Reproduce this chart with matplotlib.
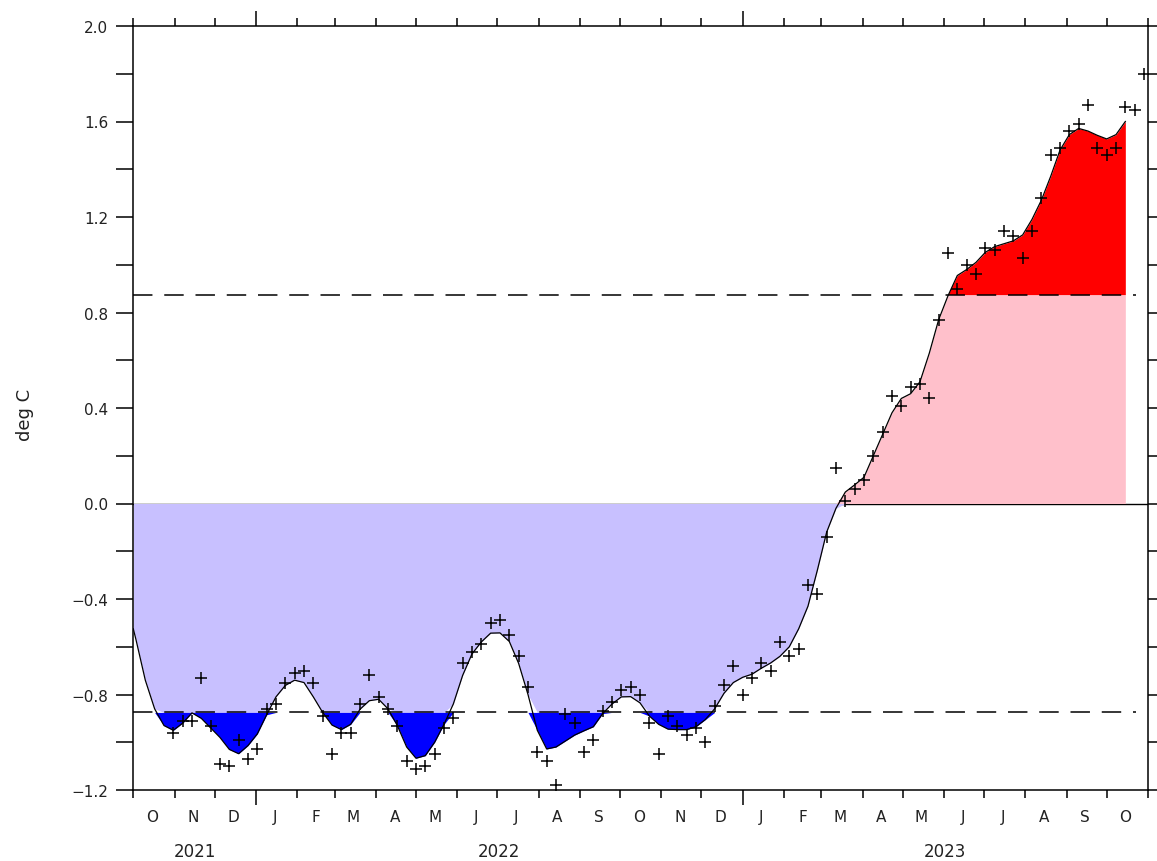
import numpy as np
import pandas as pd
import matplotlib
matplotlib.use("Agg")
import matplotlib.pyplot as plt
import matplotlib.dates as mdates
from matplotlib.transforms import blended_transform_factory

# ---------------- data ----------------
obs_start = "2021-10-31"
obs_values = [
    -0.96, -0.91, -0.91, -0.73, -0.93, -1.09, -1.10, -0.99, -1.07, -1.03,
    -0.86, -0.84, -0.75, -0.71, -0.70, -0.75, -0.89, -1.05, -0.96, -0.96,
    -0.84, -0.72, -0.81, -0.86, -0.93, -1.08, -1.11, -1.10, -1.05, -0.94,
    -0.90, -0.67, -0.62, -0.59, -0.50, -0.49, -0.55, -0.64, -0.77, -1.04,
    -1.08, -1.18, -0.88, -0.92, -1.04, -0.99, -0.87, -0.83, -0.78, -0.77,
    -0.80, -0.92, -1.05, -0.89, -0.93, -0.97, -0.94, -1.00, -0.85, -0.76,
    -0.68, -0.80, -0.73, -0.67, -0.70, -0.58, -0.64, -0.61, -0.34, -0.38,
    -0.14, 0.15, 0.01, 0.06, 0.10, 0.20, 0.30, 0.45, 0.41, 0.49,
    0.50, 0.44, 0.77, 1.05, 0.90, 1.00, 0.96, 1.07, 1.06, 1.14,
    1.12, 1.03, 1.14, 1.28, 1.46, 1.49, 1.56, 1.59, 1.67, 1.49,
    1.46, 1.49, 1.66, 1.65, 1.80,
]

smooth_first = "2021-10-01"
smooth_start = "2021-10-03"
smooth_values = [
    -0.525,
    -0.57, -0.74, -0.86, -0.93, -0.95, -0.92, -0.877, -0.90, -0.94, -0.98,
    -1.03, -1.048, -1.014, -0.965, -0.885, -0.81, -0.762, -0.74, -0.75, -0.81,
    -0.875, -0.928, -0.947, -0.925, -0.862, -0.826, -0.82, -0.86, -0.93, -1.02,
    -1.067, -1.056, -1.0, -0.925, -0.84, -0.72, -0.63, -0.58, -0.543, -0.542,
    -0.578, -0.67, -0.80, -0.95, -1.028, -1.02, -0.995, -0.97, -0.952, -0.935,
    -0.88, -0.84, -0.81, -0.809, -0.835, -0.89, -0.925, -0.945, -0.947, -0.947,
    -0.935, -0.905, -0.86, -0.795, -0.75, -0.728, -0.715, -0.69, -0.668, -0.64,
    -0.60, -0.525, -0.43, -0.28, -0.12, -0.02, 0.048, 0.078, 0.11, 0.20,
    0.29, 0.38, 0.44, 0.46, 0.51, 0.63, 0.77, 0.87, 0.955, 0.98,
    1.01, 1.052, 1.076, 1.088, 1.10, 1.125, 1.19, 1.27, 1.37, 1.48,
    1.545, 1.571, 1.56, 1.542, 1.527, 1.545, 1.60,
]

threshold = 0.875
month_labels = ["O", "N", "D", "J", "F", "M", "A", "M", "J", "J", "A", "S",
                "O", "N", "D", "J", "F", "M", "A", "M", "J", "J", "A", "S", "O"]
year_labels = ["2021", "2022", "2023"]
ytick_values = [-1.2, -1.0, -0.8, -0.6, -0.4, -0.2, 0.0, 0.2, 0.4, 0.6,
                0.8, 1.0, 1.2, 1.4, 1.6, 1.8, 2.0]
ytick_labels = ["\u22121.2", "", "\u22120.8", "", "\u22120.4", "", "0.0", "",
                "0.4", "", "0.8", "", "1.2", "", "1.6", "", "2.0"]
ylabel = "deg C"

# ---------------- colours ----------------
c_lav = "#c8c0ff"
c_blue = "#0000ff"
c_pink = "#ffc0cb"
c_red = "#ff0000"
c_text = "#222222"

plt.rcParams["font.family"] = ["DejaVu Sans"]
plt.rcParams["lines.scale_dashes"] = False

obs_dates = pd.date_range(obs_start, periods=len(obs_values), freq="7D")
sm_dates = pd.DatetimeIndex([pd.Timestamp(smooth_first)]).append(
    pd.date_range(smooth_start, periods=len(smooth_values) - 1, freq="7D"))

xo = mdates.date2num(obs_dates.to_pydatetime())
xs = mdates.date2num(sm_dates.to_pydatetime())
ys = np.array(smooth_values)
yo = np.array(obs_values)

x0 = mdates.date2num(pd.Timestamp("2021-10-01").to_pydatetime())
x1 = mdates.date2num(pd.Timestamp("2023-11-01").to_pydatetime())

fig = plt.figure(figsize=(11.57, 8.62), dpi=100)
ax = fig.add_axes([133.3 / 1157, 1 - 791 / 862, (1148 - 133.3) / 1157, (791 - 27) / 862])

ax.axhline(0, color="black", lw=1.0, zorder=1)

ax.fill_between(xs, 0, np.clip(ys, -threshold, 0), color=c_lav, lw=0, zorder=2)
ax.fill_between(xs, -threshold, np.minimum(ys, -threshold), color=c_blue, lw=0, zorder=2)
ax.fill_between(xs, 0, np.clip(ys, 0, threshold), color=c_pink, lw=0, zorder=2)
ax.fill_between(xs, threshold, np.maximum(ys, threshold), color=c_red, lw=0, zorder=2)

xd_end = mdates.date2num(pd.Timestamp("2023-10-23").to_pydatetime())
for t in (threshold, -threshold):
    ax.plot([x0, xd_end], [t, t], color="black", lw=1.1, dashes=(14, 8.5), zorder=3)

ax.plot(xs, ys, color="black", lw=0.9, zorder=4)
ax.plot(xo, yo, linestyle="none", marker="+", markersize=8, mew=1.1, color="black", zorder=5)

ax.set_xlim(x0, x1)
ax.set_ylim(-1.2, 2.0)

# y ticks
ax.set_yticks(ytick_values)
ax.set_yticklabels(ytick_labels)
ax.tick_params(axis="y", which="major", direction="out", length=12, width=1.1,
               labelsize=11, pad=6, colors="black", labelcolor=c_text,
               left=True, right=True)

# x ticks: month boundaries (minor), Jan 1 (major, longer)
months = pd.date_range("2021-10-01", "2023-11-01", freq="MS")
jan = [m for m in months if m.month == 1]
other = [m for m in months if m.month != 1]
ax.set_xticks(mdates.date2num([m.to_pydatetime() for m in jan]))
ax.set_xticks(mdates.date2num([m.to_pydatetime() for m in other]), minor=True)
ax.tick_params(axis="x", which="major", direction="out", length=11, width=1.1,
               top=True, bottom=True, labelbottom=False)
ax.tick_params(axis="x", which="minor", direction="out", length=5.5, width=1.1,
               top=True, bottom=True)
ax.yaxis.set_minor_locator(matplotlib.ticker.NullLocator())

for s in ax.spines.values():
    s.set_linewidth(1.1)

trans = blended_transform_factory(ax.transData, fig.transFigure)
mids = pd.date_range("2021-10-01", periods=len(month_labels), freq="MS") + pd.Timedelta(days=14)
for lab, m in zip(month_labels, mids):
    ax.text(mdates.date2num(m.to_pydatetime()), 1 - 818 / 862, lab, transform=trans,
            ha="center", va="center", fontsize=11, color=c_text)

for lab in year_labels:
    ys0 = max(mdates.date2num(pd.Timestamp(f"{lab}-01-01").to_pydatetime()), x0)
    ys1 = min(mdates.date2num(pd.Timestamp(f"{int(lab)+1}-01-01").to_pydatetime()), x1)
    ax.text((ys0 + ys1) / 2, 1 - 852 / 862, lab, transform=trans,
            ha="center", va="center", fontsize=12, color=c_text)

fig.text(25 / 1157, 1 - 415 / 862, ylabel, rotation=90, ha="center", va="center",
         fontsize=13, color=c_text)

fig.savefig("out.png", dpi=100)
